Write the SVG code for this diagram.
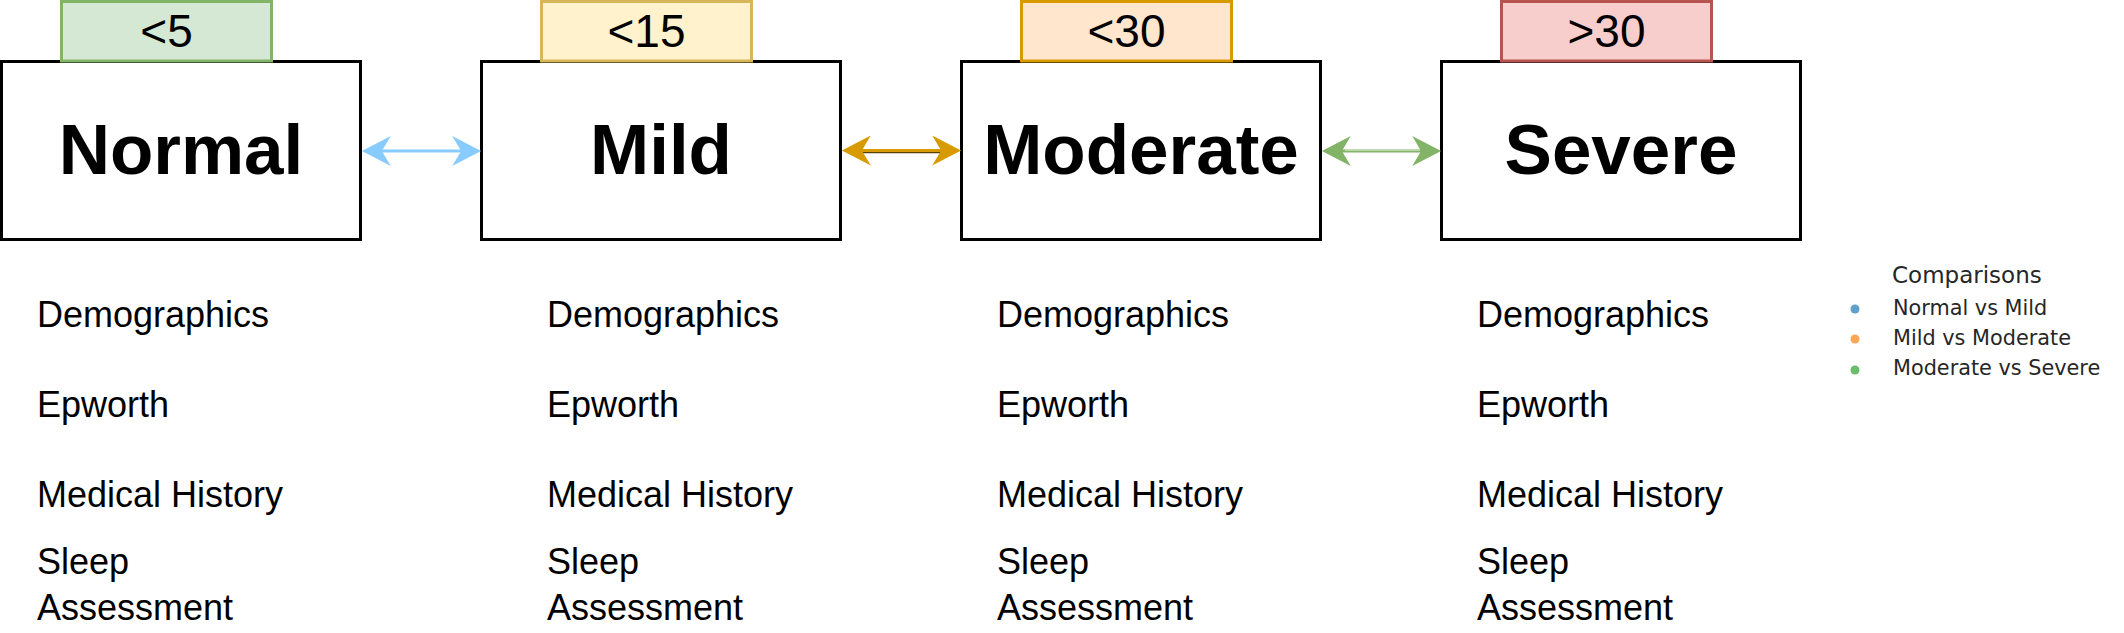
<svg xmlns="http://www.w3.org/2000/svg" width="2124" height="633" viewBox="0 0 2124 633">
<style>
  .box { fill: #ffffff; stroke: #000000; stroke-width: 3; }
  .title { font-family: "Liberation Sans", Arial, sans-serif; font-weight: bold; font-size: 71px; fill: #000; text-anchor: middle; }
  .tagtxt { font-family: "Liberation Sans", Arial, sans-serif; font-size: 46px; fill: #000; text-anchor: middle; }
  .item { font-family: "Liberation Sans", Arial, sans-serif; font-size: 36px; fill: #000; }
  .lg { font-family: "DejaVu Sans", sans-serif; fill: #262626; }
  .conn { stroke-width: 3; fill: none; }
</style>
<defs>
  <marker id="hBlue" markerUnits="userSpaceOnUse" markerWidth="30" markerHeight="30" refX="16" refY="13.5" orient="auto-start-reverse" viewBox="0 0 27 27">
    <path d="M0,0 L26,13.5 L0,27 L8,13.5 Z" fill="#88ccff"/>
  </marker>
  <marker id="hOrange" markerUnits="userSpaceOnUse" markerWidth="30" markerHeight="30" refX="16" refY="13.5" orient="auto-start-reverse" viewBox="0 0 27 27">
    <path d="M0,0 L26,13.5 L0,27 L8,13.5 Z" fill="#d79b00"/>
  </marker>
  <marker id="hGreen" markerUnits="userSpaceOnUse" markerWidth="30" markerHeight="30" refX="16" refY="13.5" orient="auto-start-reverse" viewBox="0 0 27 27">
    <path d="M0,0 L26,13.5 L0,27 L8,13.5 Z" fill="#82b366"/>
  </marker>
</defs>
<rect width="2124" height="633" fill="#ffffff"/>

<g id="node-normal">
  <rect class="box" x="1.5" y="61.5" width="359" height="178"/>
  <rect x="61.5" y="1.5" width="210" height="59.5" fill="#d5e8d4" stroke="#82b366" stroke-width="3"/>
  <text class="tagtxt" x="166.5" y="47">&lt;5</text>
  <text class="title" x="181" y="174">Normal</text>
</g>
<g id="node-mild">
  <rect class="box" x="481.5" y="61.5" width="359" height="178"/>
  <rect x="541.5" y="1.5" width="210" height="59.5" fill="#fff2cc" stroke="#d6b656" stroke-width="3"/>
  <text class="tagtxt" x="646.5" y="47">&lt;15</text>
  <text class="title" x="661" y="174">Mild</text>
</g>
<g id="node-moderate">
  <rect class="box" x="961.5" y="61.5" width="359" height="178"/>
  <rect x="1021.5" y="1.5" width="210" height="59.5" fill="#ffe6cc" stroke="#d79b00" stroke-width="3"/>
  <text class="tagtxt" x="1126.5" y="47">&lt;30</text>
  <text class="title" x="1141" y="174">Moderate</text>
</g>
<g id="node-severe">
  <rect class="box" x="1441.5" y="61.5" width="359" height="178"/>
  <rect x="1501.5" y="1.5" width="210" height="59.5" fill="#f8cecc" stroke="#b85450" stroke-width="3"/>
  <text class="tagtxt" x="1606.5" y="47">&gt;30</text>
  <text class="title" x="1621" y="174">Severe</text>
</g>

<g id="connectors">
  <line class="conn" x1="373" y1="151" x2="470" y2="151" stroke="#88ccff" marker-start="url(#hBlue)" marker-end="url(#hBlue)"/>
  <line x1="850" y1="152.5" x2="950" y2="152.5" stroke="#5a4000" stroke-width="1.5"/>
  <line class="conn" x1="853" y1="150.5" x2="950" y2="150.5" stroke="#d79b00" marker-start="url(#hOrange)" marker-end="url(#hOrange)"/>
  <line class="conn" x1="1333" y1="151" x2="1430" y2="151" stroke="#82b366" marker-start="url(#hGreen)" marker-end="url(#hGreen)"/>
  <line x1="1345" y1="150.5" x2="1420" y2="150.5" stroke="#b9d7a8" stroke-width="1"/>
</g>

<g id="list-normal">
  <text class="item" x="37" y="327">Demographics</text>
  <text class="item" x="37" y="417">Epworth</text>
  <text class="item" x="37" y="507">Medical History</text>
  <text class="item" x="37" y="574">Sleep</text>
  <text class="item" x="37" y="620">Assessment</text>
</g>
<g id="list-mild">
  <text class="item" x="547" y="327">Demographics</text>
  <text class="item" x="547" y="417">Epworth</text>
  <text class="item" x="547" y="507">Medical History</text>
  <text class="item" x="547" y="574">Sleep</text>
  <text class="item" x="547" y="620">Assessment</text>
</g>
<g id="list-moderate">
  <text class="item" x="997" y="327">Demographics</text>
  <text class="item" x="997" y="417">Epworth</text>
  <text class="item" x="997" y="507">Medical History</text>
  <text class="item" x="997" y="574">Sleep</text>
  <text class="item" x="997" y="620">Assessment</text>
</g>
<g id="list-severe">
  <text class="item" x="1477" y="327">Demographics</text>
  <text class="item" x="1477" y="417">Epworth</text>
  <text class="item" x="1477" y="507">Medical History</text>
  <text class="item" x="1477" y="574">Sleep</text>
  <text class="item" x="1477" y="620">Assessment</text>
</g>

<g id="legend">
  <text class="lg" x="1892" y="283" font-size="23">Comparisons</text>
  <circle cx="1855" cy="309" r="4.5" fill="#62a0ca"/>
  <text class="lg" x="1893" y="315" font-size="20.8">Normal vs Mild</text>
  <circle cx="1855" cy="339" r="4.5" fill="#ffa556"/>
  <text class="lg" x="1893" y="345" font-size="20.8">Mild vs Moderate</text>
  <circle cx="1855" cy="370" r="4.5" fill="#6bbc6b"/>
  <text class="lg" x="1893" y="375" font-size="20.8">Moderate vs Severe</text>
</g>
</svg>
